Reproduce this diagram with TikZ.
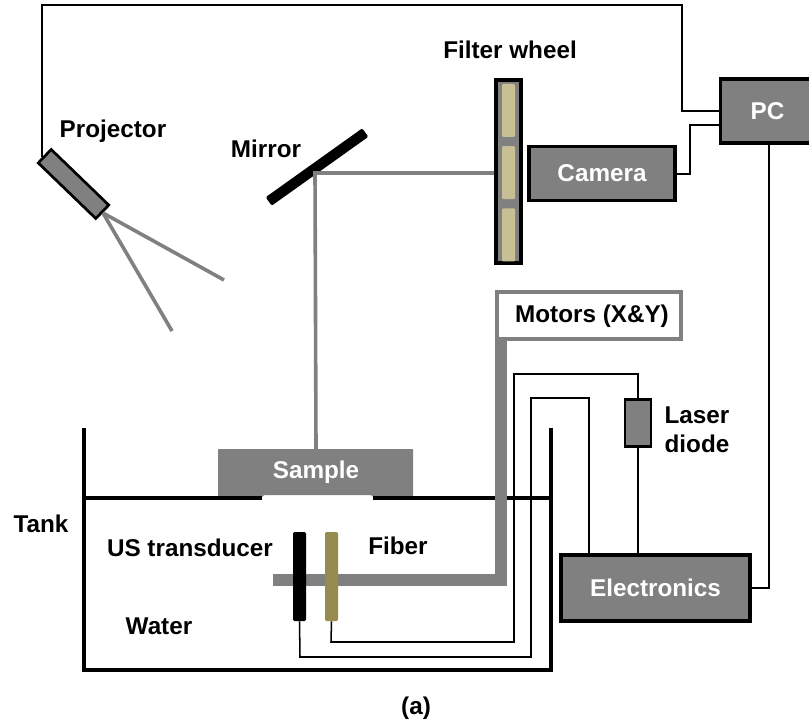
\documentclass[tikz,border=0pt]{standalone}
\usepackage{fontspec}
\setmainfont{Liberation Sans}
\usetikzlibrary{positioning}
\definecolor{boxgray}{HTML}{808080}
\definecolor{slottan}{HTML}{C9BF94}
\definecolor{fibertan}{HTML}{968C50}
\tikzstyle{lbl} = [font=\fontsize{18.2}{21.5}\selectfont\bfseries, inner sep=0pt, align=left]
\tikzstyle{bx} = [rectangle, draw=black, fill=boxgray, line width=2.7pt, inner sep=0pt,
    text=white, font=\fontsize{18.2}{21.5}\selectfont\bfseries]
\tikzstyle{slot} = [rectangle, fill=slottan, rounded corners=0.8pt, inner sep=0pt, minimum width=9.75pt, minimum height=39.75pt]
\tikzstyle{bar} = [rectangle, rounded corners=1pt, inner sep=0pt, minimum width=9.75pt, minimum height=66.75pt]
\tikzstyle{wire} = [black, line width=1.15pt]
\tikzstyle{beam} = [boxgray, line width=2.7pt]
\tikzstyle{tank} = [black, line width=2.5pt]

\begin{document}
\begin{tikzpicture}[x=0.75pt,y=-0.75pt]
  \useasboundingbox (0,0) rectangle (809,723);

  \fill[white] (0,0) rectangle (809,723);

  \node[bx,minimum width=70.5pt,minimum height=48pt] (pc) at (767.5,111) {PC};
  \node[bx,minimum width=109.5pt,minimum height=40.5pt] (camera) at (602,173.5) {Camera};
  \node[bx,minimum width=18.75pt,minimum height=137.25pt] (wheel) at (508.5,171.5) {};
  \node[slot] (slot1) at (508.5,110.5) {};
  \node[slot,below=6.5pt of slot1] (slot2) {};
  \node[slot,below=6.5pt of slot2] (slot3) {};
  \node[bx,line width=2pt,minimum width=60pt,minimum height=14pt,rotate=-44] (projector) at (73.5,184) {};
  \node[rectangle,fill=black,rounded corners=1pt,minimum width=89pt,minimum height=7.8pt,inner sep=0pt,rotate=35.5] (mirror) at (317,167) {};
  \node[bx,line width=2pt,minimum width=19.5pt,minimum height=35pt] (laser) at (638,423) {};
  \node[bx,minimum width=141.75pt,minimum height=49.5pt] (electronics) at (655.5,588) {Electronics};
  \node[rectangle,draw=boxgray,fill=white,line width=2.7pt,minimum width=138pt,minimum height=35pt,inner sep=0pt] (motors) at (589,315.5) {};

  \coordinate (topleft) at (42,5);
  \coordinate (topright) at (682,5);
  \coordinate (pcin1) at (pc.west |- 0,111);
  \coordinate (pcin2) at (pc.west |- 0,125);
  \coordinate (pcout) at (769,145);
  \coordinate (camjog) at (690,174);
  \coordinate (beamtop) at (315,173);
  \coordinate (beamend1) at (224,280);
  \coordinate (beamend2) at (172,331);
  \coordinate (beamstart) at (103,213);
  \coordinate (armtip) at (273,580);
  \coordinate (armcorner) at (500.5,580);

  % tank and sample
  \fill[boxgray,rounded corners=0.5pt] (218,449) -- (413,449) -- (413,497) -- (373,497)
    -- (371,495) -- (264,495) -- (262,497) -- (218,497) -- cycle;
  \node[text=white,lbl] (sample) at (316,472) {Sample};
  \draw[tank] (84,428) -- (84,670) -- (551,670) -- (551,428);
  \draw[tank] (84,498) -- (262,498);
  \draw[tank] (373,498) -- (551,498);

  % wires
  \draw[wire] (42,157) -- (topleft) -- (topright) -- (682,111) -- (pcin1);
  \draw[wire] (camera.east |- camjog) -- (camjog) -- (690,125) -- (pcin2);
  \draw[wire] (pcout) -- (769,588) -- (electronics.east |- 0,588);

  % arm
  \draw[boxgray,line width=9pt] (armtip) -- (armcorner) -- (motors.south west -| armcorner);

  % probes
  \node[bar,fill=black] (transducer) at (299.5,576.5) {};
  \node[bar,fill=fibertan] (fiber) at (331.5,576.5) {};
  \draw[wire] (fiber.south) -- (331,642) -- (514,642) -- (514,374) -- (638,374) -- (laser.north);
  \draw[wire] (transducer.south) -- (300,657) -- (531,657) -- (531,398) -- (589,398) -- (589,553);
  \draw[wire] (laser.south) -- (638,553);

  % light paths
  \draw[beam] (sample |- 0,449) -- (315,173) -- (wheel.west |- beamtop);
  \draw[beam] (beamstart) -- (beamend1);
  \draw[beam] (beamstart) -- (beamend2);

  \node[lbl] (lprojector) at (113,131) {Projector};
  \node[lbl] (lmirror) at (266,149) {Mirror};
  \node[lbl] (lwheel) at (510,50) {Filter wheel};
  \node[lbl] (ltank) at (41,524) {Tank};
  \node[lbl] (ltransducer) at (190,548) {US transducer};
  \node[lbl] (lfiber) at (398,546) {Fiber};
  \node[lbl] (lwater) at (159,626) {Water};
  \node[lbl] (lmotors) at (592,316) {Motors (X\&Y)};
  \node[lbl] (llaser) at (697,430) {Laser\\diode};
  \node[lbl] (lcaption) at (416,708) {(a)};
\end{tikzpicture}
\end{document}
